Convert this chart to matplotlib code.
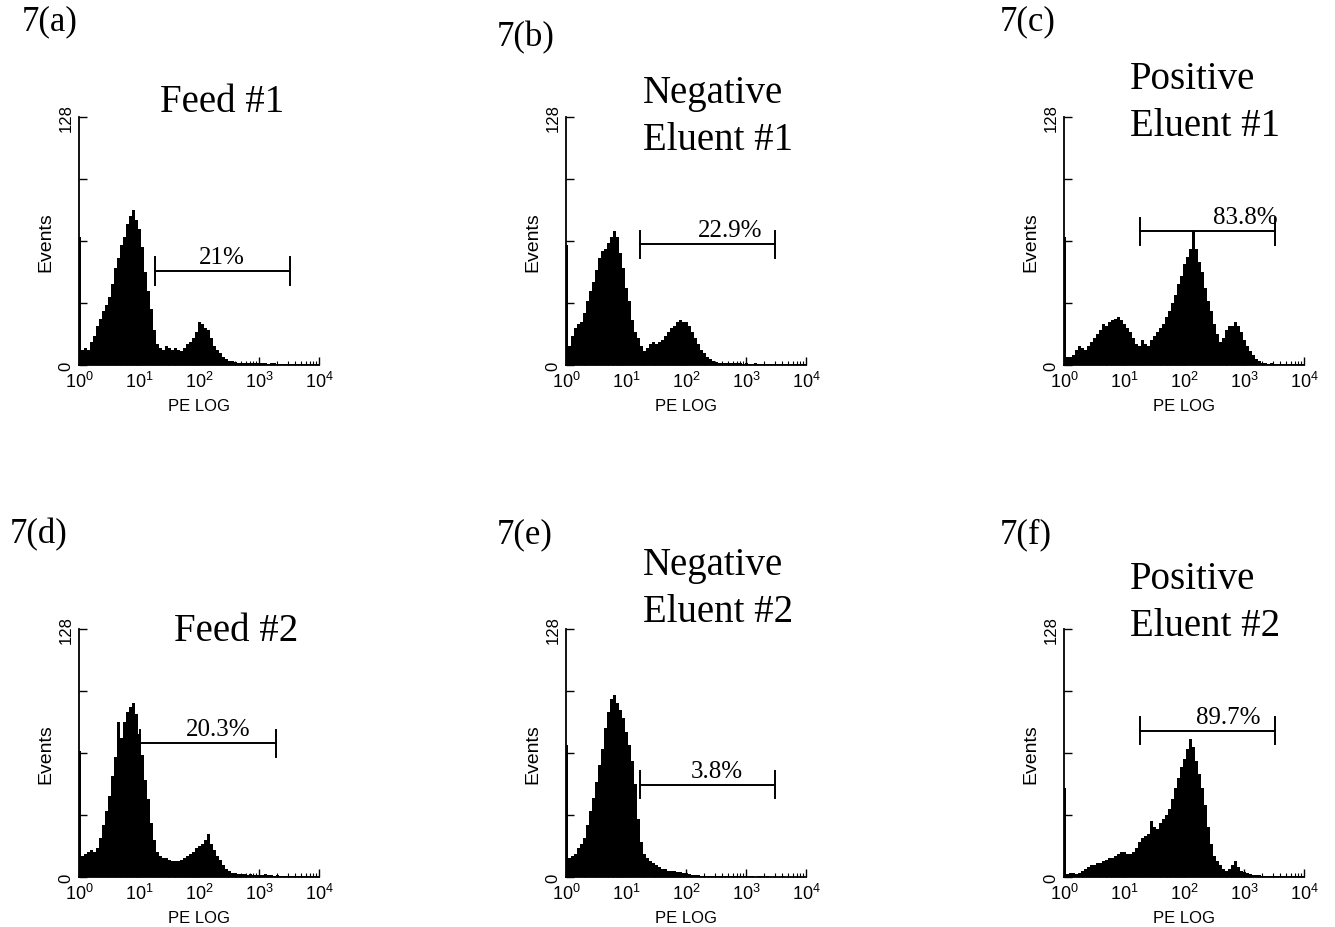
import numpy as np
import matplotlib
matplotlib.use('Agg')
import matplotlib.pyplot as plt
from matplotlib.ticker import LogLocator, NullFormatter

plt.rcParams['font.family'] = 'Liberation Sans'
plt.rcParams['mathtext.default'] = 'regular'

# channel positions in decades (log10 of PE intensity)
decades = [0.00, 0.05, 0.10, 0.15, 0.20, 0.25, 0.30, 0.35, 0.40, 0.45,
           0.50, 0.55, 0.60, 0.65, 0.70, 0.75, 0.80, 0.85, 0.90, 0.95,
           1.00, 1.05, 1.10, 1.15, 1.20, 1.25, 1.30, 1.35, 1.40, 1.45,
           1.50, 1.55, 1.60, 1.65, 1.70, 1.75, 1.80, 1.85, 1.90, 1.95,
           2.00, 2.05, 2.10, 2.15, 2.20, 2.25, 2.30, 2.35, 2.40, 2.45,
           2.50, 2.55, 2.60, 2.65, 2.70, 2.75, 2.80, 2.85, 2.90, 2.95,
           3.00, 3.05, 3.10, 3.15, 3.20, 3.25, 3.30, 3.35, 3.40, 3.45,
           3.50, 3.55, 3.60, 3.65, 3.70, 3.75, 3.80, 3.85, 3.90, 3.95, 4.00]

# event counts
feed1 = [66, 8, 9, 8, 12, 15, 20, 24, 28, 31,
         35, 42, 50, 55, 62, 66, 73, 77, 80, 75,
         70, 61, 48, 38, 29, 18, 11, 9, 8, 10,
         9, 8, 9, 8, 7, 9, 11, 12, 14, 17,
         22, 21, 19, 18, 14, 10, 8, 6, 4, 3,
         2, 2, 1.5, 1, 1.2, 1, 0.8, 1, 1.2, 0.8,
         1, 0.8, 1, 0.7, 1, 0.8, 0.6, 0.7, 0.5, 0.6,
         0.5, 0.6, 0.5, 0.4, 0.6, 0.5, 0.4, 0.5, 0.4, 0.5, 0.3]
neg1 = [62, 10, 15, 19, 21, 22, 27, 33, 38, 43,
        49, 55, 59, 60, 63, 66, 69, 66, 58, 50,
        40, 33, 23, 17, 14, 10, 7, 9, 11, 12,
        11, 12, 13, 15, 17, 19, 20, 22, 23, 22,
        22, 20, 17, 14, 11, 8, 6, 4, 3, 2,
        1.5, 1.2, 1, 1.2, 0.8, 1, 1, 0.8, 1, 0.7,
        0.8, 0.6, 0.7, 0.8, 0.5, 0.6, 0.5, 0.6, 0.4, 0.5,
        0.4, 0.5, 0.4, 0.5, 0.3, 0.4, 0.4, 0.3, 0.4, 0.3, 0.3]
pos1 = [66, 4, 4, 5, 8, 10, 9, 8, 10, 12,
        14, 16, 18, 21, 20, 22, 23, 24, 25, 23,
        21, 19, 17, 14, 11, 10, 13, 11, 10, 13,
        15, 17, 19, 21, 25, 28, 32, 36, 42, 46,
        52, 56, 60, 69, 60, 53, 48, 40, 33, 28,
        21, 16, 12, 14, 18, 20, 20, 22, 20, 17,
        13, 10, 7, 5, 3, 2, 1, 0.8, 0.7, 0.8,
        0.6, 0.7, 0.5, 0.6, 0.5, 0.4, 0.5, 0.4, 0.4, 0.3, 0.3]
feed2 = [65, 11, 12, 13, 14, 13, 15, 20, 27, 34,
         42, 52, 62, 80, 72, 80, 85, 88, 90, 84,
         74, 63, 50, 40, 28, 19, 13, 11, 10, 10,
         9, 8, 8, 8, 9, 10, 11, 12, 13, 15,
         16, 17, 19, 22, 17, 14, 11, 9, 6, 4,
         3, 2, 2, 1.5, 1.3, 1.5, 1.2, 1.3, 1, 1.2,
         1.2, 1, 1.3, 1, 0.8, 0.7, 0.8, 0.6, 0.7, 0.5,
         0.6, 0.5, 0.5, 0.4, 0.5, 0.4, 0.4, 0.3, 0.4, 0.3, 0.3]
neg2 = [68, 10, 11, 12, 15, 17, 20, 27, 34, 41,
        49, 58, 66, 77, 85, 92, 94, 90, 86, 82,
        75, 68, 60, 48, 30, 18, 12, 10, 8, 7,
        6, 5, 4, 4, 3, 3, 3, 2.5, 2.5, 2,
        2, 1.5, 1.2, 1, 0.8, 0.7, 0.6, 0.7, 0.5, 0.6,
        0.5, 0.5, 0.4, 0.4, 0.5, 0.3, 0.4, 0.3, 0.3, 0.4,
        0.3, 0.3, 0.3, 0.2, 0.3, 0.3, 0.2, 0.3, 0.2, 0.2,
        0.2, 0.2, 0.3, 0.2, 0.2, 0.2, 0.2, 0.2, 0.2, 0.2, 0.2]
pos2 = [46, 1.5, 2, 2, 1.5, 2, 3, 4, 5, 6,
        6, 7, 7, 8, 9, 10, 10, 11, 12, 13,
        13, 12, 12, 13, 15, 18, 20, 21, 22, 29,
        26, 25, 28, 30, 32, 35, 40, 46, 51, 57,
        61, 66, 71, 67, 60, 53, 46, 37, 26, 17,
        11, 8, 6, 4, 3, 4, 6, 8, 5, 3,
        2.5, 2, 1.5, 1.2, 1, 0.8, 0.6, 0.7, 0.5, 0.5,
        0.4, 0.5, 0.4, 0.4, 0.3, 0.4, 0.3, 0.3, 0.3, 0.3, 0.3]

histograms = [feed1, neg1, pos1, feed2, neg2, pos2]
panel_labels = ['7(a)', '7(b)', '7(c)', '7(d)', '7(e)', '7(f)']
titles = ['Feed #1', 'Negative\nEluent #1', 'Positive\nEluent #1',
          'Feed #2', 'Negative\nEluent #2', 'Positive\nEluent #2']

# marker gates: lower / upper PE value, height, percentage
gate_lo = [18.5, 17, 18.6, 10.5, 17, 18.6]
gate_hi = [3300, 3000, 3300, 1900, 3000, 3300]
gate_y = [48.5, 62.4, 69, 69, 47.7, 75.6]
gate_text = ['21%', '22.9%', '83.8%', '20.3%', '3.8%', '89.7%']
gate_text_x = [240, 537, 1050, 209, 331, 537]

W, H = 1335, 928
fig = plt.figure(figsize=(W / 100, H / 100), dpi=100)

col_left = [79, 566, 1064]
row_bottom = [366, 878]
ax_w, ax_h = 240, 248

label_pos = [(22, 22), (497, 38), (1000, 22), (10, 535), (497, 535), (1000, 535)]
title_pos = [(222, 103, 'center'), (643, 117, 'left'), (1130, 103, 'left'),
             (236, 632, 'center'), (643, 589, 'left'), (1130, 603, 'left')]

for i, counts in enumerate(histograms):
    r, c = divmod(i, 3)
    ax = fig.add_axes([col_left[c] / W, 1 - row_bottom[r] / H, ax_w / W, ax_h / H])
    x = 10 ** np.array(decades)
    ax.fill_between(x, counts, step='mid', color='black', linewidth=0)

    ax.set_xscale('log')
    ax.set_xlim(1, 1e4)
    ax.set_ylim(0, 128)
    ax.set_xticks([1, 10, 100, 1000, 10000])
    ax.set_xticklabels(['$10^{0}$', '$10^{1}$', '$10^{2}$', '$10^{3}$', '$10^{4}$'], fontsize=13)
    ax.xaxis.set_minor_locator(LogLocator(base=10, subs=range(2, 10), numticks=20))
    ax.xaxis.set_minor_formatter(NullFormatter())
    ax.set_yticks([0, 32, 64, 96, 128])
    ax.set_yticklabels(['0', '', '', '', '128'], rotation=90, va='center', fontsize=12)
    ax.tick_params(axis='x', which='major', direction='in', length=6, width=1, pad=4)
    ax.tick_params(axis='x', which='minor', direction='in', length=3, width=0.8)
    ax.tick_params(axis='y', direction='in', length=6, width=1, pad=4)
    for s in ['top', 'right']:
        ax.spines[s].set_visible(False)
    for s in ['left', 'bottom']:
        ax.spines[s].set_linewidth(1.3)
    ax.set_ylabel('Events', fontsize=14, labelpad=3)
    ax.set_xlabel('PE LOG', fontsize=12, labelpad=5)

    # gate bar
    lo, hi, gy = gate_lo[i], gate_hi[i], gate_y[i]
    ax.plot([lo, hi], [gy, gy], color='black', lw=1.4)
    ax.plot([lo, lo], [gy - 7, gy + 7], color='black', lw=1.4)
    ax.plot([hi, hi], [gy - 7, gy + 7], color='black', lw=1.4)
    ax.text(gate_text_x[i], gy + 1.5, gate_text[i], ha='center', va='bottom',
            fontsize=18, family='Liberation Serif')

    lx, ly = label_pos[i]
    fig.text(lx / W, 1 - ly / H, panel_labels[i], ha='left', va='center',
             fontsize=25, family='Liberation Serif')
    tx, ty, ha = title_pos[i]
    fig.text(tx / W, 1 - ty / H, titles[i], ha=ha, va='center', multialignment='left',
             fontsize=28, family='Liberation Serif', linespacing=1.34)

fig.savefig('out.png', dpi=100)
